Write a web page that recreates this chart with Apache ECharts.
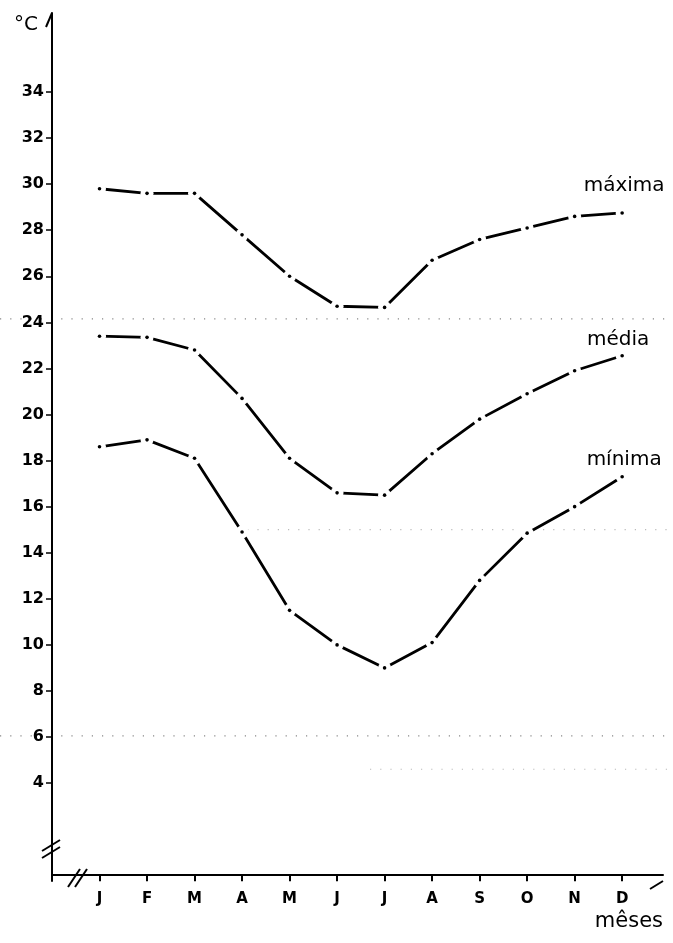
<!DOCTYPE html>
<html>
<head>
<meta charset="utf-8">
<script src="https://cdn.jsdelivr.net/npm/echarts@6/dist/echarts.min.js"></script>
<style>
  html, body { margin: 0; padding: 0; background: #fff; }
  #chart { width: 673px; height: 943px; }
</style>
</head>
<body>
<div id="chart"></div>
<script>
// monthly temperatures
const monthLabels = ['J', 'F', 'M', 'A', 'M', 'J', 'J', 'A', 'S', 'O', 'N', 'D']
const monthIndex = [1, 2, 3, 4, 5, 6, 7, 8, 9, 10, 11, 12]
const maxima = [29.8, 29.6, 29.6, 27.8, 26.0, 24.7, 24.65, 26.7, 27.6, 28.1, 28.6, 28.75]
const media = [23.4, 23.35, 22.8, 20.7, 18.1, 16.6, 16.5, 18.3, 19.8, 20.9, 21.9, 22.55]
const minima = [18.6, 18.9, 18.1, 14.9, 11.5, 10.0, 9.0, 10.1, 12.8, 14.85, 16.0, 17.3]
const yTicks = [4, 6, 8, 10, 12, 14, 16, 18, 20, 22, 24, 26, 28, 30, 32, 34]
const lineNames = ['máxima', 'média', 'mínima']

const ink = '#000'
const paper = '#fff'
const font = 'DejaVu Sans'

const chart = echarts.init(document.getElementById('chart'))

const lines = [maxima, media, minima]
// label placement above the December point of each curve
const labelDist = [15, 4, 5]
const labelShift = [2, -4, 2]

const series = []
lines.forEach((vals, k) => {
    const pts = vals.map((v, i) => [monthIndex[i], v])
    // solid line
    series.push({
        type: 'line',
        data: pts,
        showSymbol: false,
        lineStyle: { color: ink, width: 2.8 },
        emphasis: { disabled: true },
        silent: true,
        animation: false,
        z: 2,
    })
    // paper-coloured disc that breaks the line at every month
    series.push({
        type: 'scatter',
        data: pts,
        symbol: 'circle',
        symbolSize: 13,
        itemStyle: { color: paper, opacity: 1 },
        emphasis: { disabled: true },
        silent: true,
        animation: false,
        z: 3,
    })
    // the dot of the dash-dot pattern, with the curve name at the end
    series.push({
        type: 'scatter',
        data: pts.map((p, i) => {
            if (i !== pts.length - 1) return p
            return {
                value: p,
                label: {
                    show: true,
                    formatter: lineNames[k],
                    position: 'top',
                    distance: labelDist[k],
                    offset: [labelShift[k], 0],
                    fontFamily: font,
                    fontSize: 20,
                    color: ink,
                    opacity: 1,
                },
            }
        }),
        symbol: 'circle',
        symbolSize: 3.6,
        itemStyle: { color: ink, opacity: 1 },
        emphasis: { disabled: true },
        silent: true,
        animation: false,
        z: 4,
    })
})

const option = {
    backgroundColor: '#fff',
    animation: false,
    grid: {
        left: 52,
        right: 10,
        top: 13,
        bottom: 62,
        containLabel: false,
        outerBoundsMode: 'none',
    },
    xAxis: {
        type: 'value',
        min: 0,
        max: 12.86,
        name: 'mêses',
        nameLocation: 'end',
        nameGap: 0,
        nameTextStyle: {
            fontFamily: font,
            fontSize: 21,
            color: ink,
            align: 'right',
            verticalAlign: 'top',
            padding: [36, 0, 0, 0],
        },
        axisLine: { show: true, lineStyle: { color: ink, width: 2 } },
        axisTick: {
            show: true,
            length: 6,
            lineStyle: { color: ink, width: 2 },
            customValues: monthIndex,
        },
        axisLabel: {
            margin: 11,
            fontFamily: font,
            fontWeight: 'bold',
            fontSize: 15,
            color: ink,
            customValues: monthIndex,
            formatter: v => monthLabels[Math.round(v) - 1] || '',
        },
        splitLine: { show: false },
    },
    yAxis: {
        type: 'value',
        min: -0.25,
        max: 37.43,
        name: '°C',
        nameLocation: 'end',
        nameGap: 0,
        nameTextStyle: {
            fontFamily: font,
            fontSize: 20,
            color: ink,
            align: 'right',
            verticalAlign: 'top',
            padding: [2, 14, 0, 0],
        },
        axisLine: { show: true, lineStyle: { color: ink, width: 2 } },
        axisTick: {
            show: true,
            length: 6,
            lineStyle: { color: ink, width: 1.5 },
            customValues: yTicks,
        },
        axisLabel: {
            margin: 8,
            fontFamily: font,
            fontWeight: 'bold',
            fontSize: 16,
            color: ink,
            customValues: yTicks,
        },
        splitLine: { show: false },
    },
    series: series,
}

chart.setOption(option)

// arrow heads, axis breaks and the dotted fold lines of the scan
const px = (x, y) => chart.convertToPixel({ gridIndex: 0 }, [x, y])
const yTop = px(0, 37.43)
const xEnd = px(12.86, -0.25)
const origin = px(0, -0.25)
const seg = (x1, y1, x2, y2, w) => ({
    type: 'line',
    shape: { x1, y1, x2, y2 },
    style: { stroke: ink, lineWidth: w },
    silent: true,
})
const dotted = (y, x1, x2, c) => ({
    type: 'line',
    shape: { x1, y1: y, x2, y2: y },
    style: { stroke: c, lineWidth: 1.2, lineDash: [1.2, 9] },
    silent: true,
    z: -1,
})
const foldY = [px(0, 24.15)[1], px(0, 6.05)[1], px(0, 15.0)[1], px(0, 4.6)[1]]

chart.setOption({
    graphic: [
        seg(yTop[0], yTop[1], yTop[0] - 6, yTop[1] + 14, 2),
        seg(xEnd[0], xEnd[1], xEnd[0] - 13, xEnd[1] + 8, 2),
        seg(origin[0] - 10, origin[1] - 30, origin[0] + 8, origin[1] - 41, 2),
        seg(origin[0] - 10, origin[1] - 23, origin[0] + 8, origin[1] - 34, 2),
        seg(origin[0] + 16, origin[1] + 6, origin[0] + 28, origin[1] - 12, 2),
        seg(origin[0] + 23, origin[1] + 6, origin[0] + 35, origin[1] - 12, 2),
        dotted(foldY[0], 0, 673, '#888'),
        dotted(foldY[1], 0, 673, '#888'),
        dotted(foldY[2], 237, 673, '#bbb'),
        dotted(foldY[3], 370, 673, '#bbb'),
    ],
})
</script>
</body>
</html>
